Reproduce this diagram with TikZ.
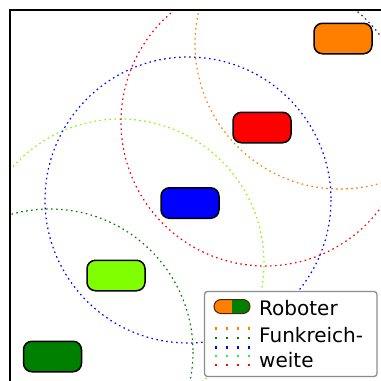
\documentclass[tikz,border=0pt]{standalone}
\usepackage{fontspec}
\setmainfont{DejaVu Sans}
\definecolor{rorange}{RGB}{255,128,0}
\definecolor{rred}{RGB}{255,0,0}
\definecolor{rblue}{RGB}{0,0,255}
\definecolor{rlime}{RGB}{128,255,0}
\definecolor{rdgreen}{RGB}{0,128,0}
\definecolor{lgreen}{RGB}{34,255,34}
\tikzset{
  robot/.style={draw=black, line width=1.5pt, rounded corners=8.5pt, minimum width=58pt, minimum height=30.5pt, inner sep=0pt},
  radioline/.style={line width=1.2pt, dash pattern=on 1.6pt off 3.4pt},
  legdots/.style={line width=2.6pt, dash pattern=on 2.6pt off 8.4pt},
  legtext/.style={anchor=base west, font=\fontsize{20}{24}\selectfont, inner sep=0pt},
}
\begin{document}
\begin{tikzpicture}[x=1pt,y=-1pt]
\useasboundingbox (0,0) rectangle (381,381);
\fill[white] (0,0) rectangle (381,381);
\begin{scope}
\clip (10,10) rectangle (381,381);
\draw[radioline, rdgreen] (50,352) circle (143);
\draw[radioline, rlime] (120,263) ++(-142:144) arc[start angle=-142, end angle=100, radius=144];
\draw[radioline, rblue] (188,200) circle (143);
\draw[radioline, rred] (265,122) ++(-36:144) arc[start angle=-36, end angle=270, radius=144];
\draw[radioline, black!80] (265,122) ++(-52:144) arc[start angle=-52, end angle=-36, radius=144];
\draw[radioline, rorange] (340,44) circle (145);
\end{scope}
\draw[line width=2pt] (381,10) -- (10,10) -- (10,381);
\node[robot, fill=rorange] (ro) at (343,38.5) {};
\node[robot, fill=rred] (rr) at (262,127.5) {};
\node[robot, fill=rblue] (rb) at (190,203) {};
\node[robot, fill=rlime] (rl) at (116,275.5) {};
\node[robot, fill=rdgreen] (rg) at (52.5,356.5) {};
% legend
\draw[draw=black!45, fill=white, line width=1.3pt, rounded corners=3pt] (204.5,291.5) rectangle (377,376.5);
\begin{scope}
\clip[rounded corners=7pt] (214,299.5) rectangle (250,313.5);
\fill[rorange] (214,299.5) rectangle (232,313.5);
\fill[rdgreen] (232,299.5) rectangle (250,313.5);
\end{scope}
\draw[black!70!rorange, line width=1pt, rounded corners=7pt] (214,299.5) rectangle (250,313.5);
\draw[legdots, rorange] (214.7,328.5) -- (252,328.5);
\draw[legdots, rdgreen] (214.7,338) -- (252,338);
\draw[legdots, rblue] (214.7,347.5) -- (252,347.5);
\draw[legdots, lgreen] (214.7,356) -- (252,356);
\draw[legdots, rred] (214.7,365) -- (252,365);
\node[legtext] (t1) at (259,315) {Roboter};
\node[legtext] (t2) at (259,342) {Funkreich-};
\node[legtext] (t3) at (259,367) {weite};
\end{tikzpicture}
\end{document}
